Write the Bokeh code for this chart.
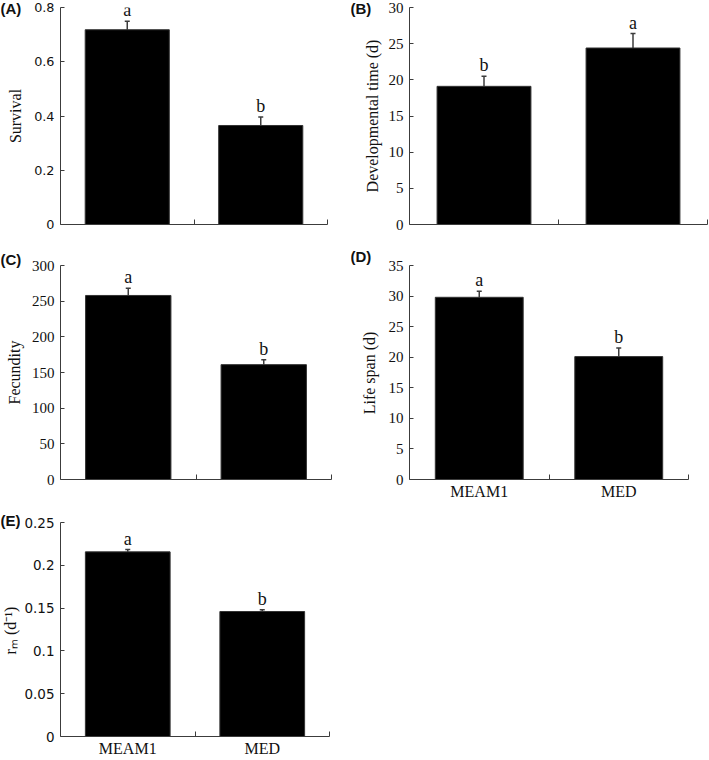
import math
from bokeh.plotting import figure
from bokeh.models import FixedTicker, Whisker, TeeHead, ColumnDataSource, Range1d
from bokeh.layouts import row, column
from bokeh.embed import file_html
from bokeh.resources import INLINE
from bokeh.core.properties import value

# ---------------- data ----------------
categories = ["MEAM1", "MED"]

survival_mean = [0.718, 0.365]
survival_se = [0.031, 0.031]
survival_letters = ["a", "b"]
survival_ticks = [0, 0.2, 0.4, 0.6, 0.8]
survival_tick_labels = ["0", "0.2", "0.4", "0.6", "0.8"]

devtime_mean = [19.1, 24.4]
devtime_se = [1.4, 2.0]
devtime_letters = ["b", "a"]
devtime_ticks = [0, 5, 10, 15, 20, 25, 30]
devtime_tick_labels = ["0", "5", "10", "15", "20", "25", "30"]

fecundity_mean = [258, 161]
fecundity_se = [10, 7]
fecundity_letters = ["a", "b"]
fecundity_ticks = [0, 50, 100, 150, 200, 250, 300]
fecundity_tick_labels = ["0", "50", "100", "150", "200", "250", "300"]

lifespan_mean = [29.8, 20.1]
lifespan_se = [1.0, 1.4]
lifespan_letters = ["a", "b"]
lifespan_ticks = [0, 5, 10, 15, 20, 25, 30, 35]
lifespan_tick_labels = ["0", "5", "10", "15", "20", "25", "30", "35"]

rm_mean = [0.2157, 0.146]
rm_se = [0.0027, 0.002]
rm_letters = ["a", "b"]
rm_ticks = [0, 0.05, 0.1, 0.15, 0.2, 0.25]
rm_tick_labels = ["0", "0.05", "0.1", "0.15", "0.2", "0.25"]

# ---------------- styling ----------------
AXIS_COLOR = "#3c3c3c"
TEXT_COLOR = "#111111"
SERIF = "Liberation Serif"
SANS = "DejaVu Sans"


def side_strip(tw, h, tag, tag_cy, label, label_cx, label_cy):
    """Narrow strip left of a panel holding the panel tag and the rotated y-axis title."""
    f = figure(width=tw, height=h, x_range=Range1d(0, tw), y_range=Range1d(0, h),
               min_border=0, x_axis_location=None, y_axis_location=None, title=None,
               frame_align=False,
               output_backend="svg", toolbar_location=None, tools="")
    f.outline_line_color = None
    f.grid.grid_line_color = None
    f.text(x=[0], y=[h - tag_cy], text=[tag], text_align="left", text_baseline="middle",
           text_font=value("Liberation Sans"), text_font_style="bold",
           text_font_size="15px", text_color=TEXT_COLOR)
    f.text(x=[label_cx], y=[h - label_cy], text=[label], angle=math.pi / 2,
           text_align="center", text_baseline="middle",
           text_font=value(SERIF), text_font_size="16px", text_color=TEXT_COLOR)
    return f


def panel(mean, se, letters, ticks, tick_labels, geom, tick_font, tick_size, show_cats):
    L, R, T, B, FW, FH = geom
    n = len(categories)
    xs = [i + 0.5 for i in range(n)]
    y0, y1 = ticks[0], ticks[-1]
    p = figure(width=L + FW + R, height=T + FH + B,
               min_border_left=L, min_border_right=R,
               min_border_top=T, min_border_bottom=B, title=None, frame_align=False,
               x_range=Range1d(0, n), y_range=Range1d(y0, y1),
               output_backend="svg", toolbar_location=None, tools="")
    p.outline_line_color = None
    p.grid.grid_line_color = None
    p.background_fill_color = "white"
    p.border_fill_color = "white"

    yax = p.yaxis[0]
    yax.ticker = FixedTicker(ticks=ticks)
    yax.major_label_overrides = dict(zip(ticks, tick_labels))
    yax.major_tick_in = 4
    yax.major_tick_out = 0
    yax.minor_tick_in = 0
    yax.minor_tick_out = 0
    yax.minor_tick_line_color = None
    yax.axis_line_color = AXIS_COLOR
    yax.major_tick_line_color = AXIS_COLOR
    yax.major_label_text_font = tick_font
    yax.major_label_text_font_size = f"{tick_size}px"
    yax.major_label_text_color = TEXT_COLOR
    yax.major_label_standoff = 6

    xax = p.xaxis[0]
    xax.ticker = FixedTicker(ticks=xs if show_cats else [],
                             minor_ticks=list(range(1, n + 1)))
    if show_cats:
        xax.major_label_overrides = dict(zip(xs, categories))
    xax.major_tick_line_color = None
    xax.major_tick_in = 0
    xax.major_tick_out = 0
    xax.minor_tick_in = 5
    xax.minor_tick_out = 0
    xax.minor_tick_line_color = AXIS_COLOR
    xax.axis_line_color = AXIS_COLOR
    xax.major_label_text_font = SERIF
    xax.major_label_text_font_size = "16px"
    xax.major_label_text_color = TEXT_COLOR
    xax.major_label_standoff = 3

    p.vbar(x=xs, top=mean, bottom=0, width=0.63,
           fill_color="black", line_color="#333333", line_width=1)

    upper = [m + e for m, e in zip(mean, se)]
    src = ColumnDataSource(dict(x=xs, lower=mean, upper=upper))
    p.add_layout(Whisker(base="x", lower="lower", upper="upper", source=src,
                         dimension="height", lower_head=None,
                         upper_head=TeeHead(size=5, line_color=AXIS_COLOR, line_width=1.5),
                         line_color=AXIS_COLOR, line_width=1.5))

    gap = 1.0 / FH * (y1 - y0)   # text box bottom 1 px above the error bar cap
    p.text(x=xs, y=[u + gap for u in upper], text=letters, text_align="center",
           text_baseline="bottom",
           text_font=value(SERIF), text_font_size="18px", text_color=TEXT_COLOR)
    return p


# Row 1 (height 240)
sA = side_strip(28, 240, "(A)", 8, "Survival", 15, 7 + 217 / 2)
pA = panel(survival_mean, survival_se, survival_letters, survival_ticks, survival_tick_labels,
           (32, 23, 7, 16, 267, 217), SANS, 12.8, False)
sB = side_strip(33, 240, "(B)", 8, "Developmental time (d)", 22, 7 + 217 / 2)
pB = panel(devtime_mean, devtime_se, devtime_letters, devtime_ticks, devtime_tick_labels,
           (26, 1, 7, 16, 298, 217), SERIF, 15, False)

# Row 2 (height 262)
sC = side_strip(27, 262, "(C)", 19, "Fecundity", 13.5, 25 + 214 / 2)
pC = panel(fecundity_mean, fecundity_se, fecundity_letters, fecundity_ticks, fecundity_tick_labels,
           (33, 19, 25, 23, 271, 214), SERIF, 15, False)
sD = side_strip(30, 262, "(D)", 16, "Life span (d)", 19, 25 + 215 / 2)
pD = panel(lifespan_mean, lifespan_se, lifespan_letters, lifespan_ticks, lifespan_tick_labels,
           (29, 20, 25, 22, 279, 215), SERIF, 15, True)

# Row 3 (height 257)
sE = side_strip(20, 257, "(E)", 18, "rₘ (d⁻¹)", 10, 20 + 216 / 2)
pE = panel(rm_mean, rm_se, rm_letters, rm_ticks, rm_tick_labels,
           (40, 21, 20, 21, 269, 216), SANS, 13.5, True)

layout = column(row(sA, pA, sB, pB), row(sC, pC, sD, pD), row(sE, pE))

open("out.html", "w").write(file_html(layout, INLINE))
